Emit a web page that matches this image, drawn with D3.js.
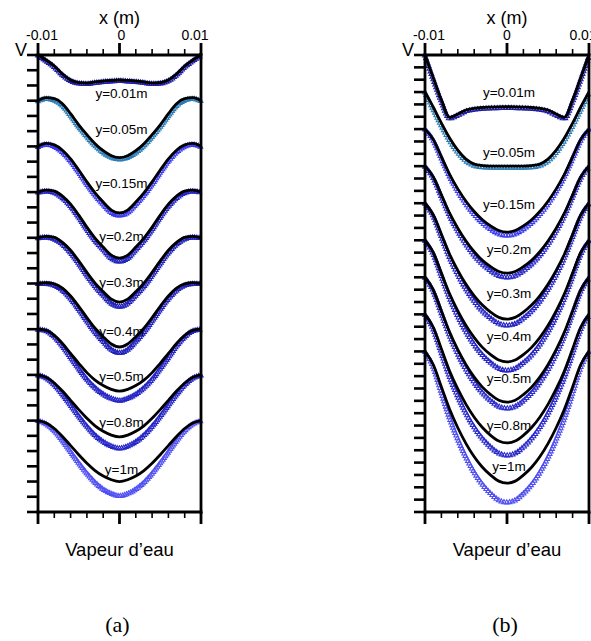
<!DOCTYPE html>
<html><head><meta charset="utf-8">
<script src="https://cdn.jsdelivr.net/npm/d3@7"></script>
<style>body{margin:0;background:#fff}svg{display:block}</style>
</head><body>
<script>
// ---------- DATA ----------
const xValues = [-0.010,-0.009,-0.008,-0.007,-0.006,-0.005,-0.004,-0.003,-0.002,-0.001,0,0.001,0.002,0.003,0.004,0.005,0.006,0.007,0.008,0.009,0.010];
const curveLabels = ["y=0.01m","y=0.05m","y=0.15m","y=0.2m","y=0.3m","y=0.4m","y=0.5m","y=0.8m","y=1m"];
const xMinorTicks = [-0.01,-0.008,-0.006,-0.004,-0.002,0,0.002,0.004,0.006,0.008,0.01];
const xMajorTicks = [-0.01,0,0.01];
const xTickLabels = ["-0.01","0","0.01"];
const xAxisTitle = "x (m)";
const vAxisTitle = "V";
const panelTitles = ["Vapeur d\u2019eau","Vapeur d\u2019eau"];
const panelCaptions = ["(a)","(b)"];

// panel (a): model (black line)
const aModel = [
[0,-0.33,-0.72,-1.25,-1.64,-1.81,-1.84,-1.77,-1.71,-1.67,-1.64,-1.67,-1.71,-1.77,-1.84,-1.81,-1.64,-1.25,-0.72,-0.33,0],
[-3,-2.80,-2.87,-3.20,-3.85,-4.58,-5.23,-5.82,-6.28,-6.61,-6.74,-6.61,-6.28,-5.82,-5.23,-4.58,-3.85,-3.20,-2.87,-2.80,-3],
[-6,-5.80,-5.90,-6.25,-6.82,-7.55,-8.33,-9.05,-9.65,-10.18,-10.37,-10.18,-9.65,-9.05,-8.33,-7.55,-6.82,-6.25,-5.90,-5.80,-6],
[-9,-8.87,-8.93,-9.26,-9.79,-10.51,-11.30,-12.02,-12.61,-13.14,-13.33,-13.14,-12.61,-12.02,-11.30,-10.51,-9.79,-9.26,-8.93,-8.87,-9],
[-12,-11.90,-11.97,-12.30,-12.82,-13.52,-14.27,-14.97,-15.53,-16.03,-16.22,-16.03,-15.53,-14.97,-14.27,-13.52,-12.82,-12.30,-11.97,-11.90,-12],
[-15,-14.95,-15.02,-15.30,-15.82,-16.50,-17.24,-17.93,-18.49,-18.97,-19.17,-18.97,-18.49,-17.93,-17.24,-16.50,-15.82,-15.30,-15.02,-14.95,-15],
[-18,-18.08,-18.41,-18.94,-19.59,-20.24,-20.85,-21.34,-21.70,-21.95,-22.07,-21.95,-21.70,-21.34,-20.85,-20.24,-19.59,-18.94,-18.41,-18.08,-18],
[-21,-21.16,-21.53,-22.06,-22.67,-23.28,-23.85,-24.34,-24.70,-24.95,-25.07,-24.95,-24.70,-24.34,-23.85,-23.28,-22.67,-22.06,-21.53,-21.16,-21],
[-24,-24.16,-24.52,-25.04,-25.64,-26.24,-26.80,-27.28,-27.64,-27.88,-28.00,-27.88,-27.64,-27.28,-26.80,-26.24,-25.64,-25.04,-24.52,-24.16,-24]
];
// panel (a): measured (triangles)
const aMeasured = [
[0,-0.36,-0.76,-1.28,-1.67,-1.84,-1.87,-1.80,-1.74,-1.70,-1.67,-1.70,-1.74,-1.80,-1.87,-1.84,-1.67,-1.28,-0.76,-0.36,0],
[-3,-2.85,-2.95,-3.30,-3.95,-4.68,-5.33,-5.92,-6.38,-6.70,-6.82,-6.70,-6.38,-5.92,-5.33,-4.68,-3.95,-3.30,-2.95,-2.85,-3],
[-6,-5.85,-5.98,-6.35,-6.93,-7.67,-8.45,-9.17,-9.78,-10.32,-10.50,-10.32,-9.78,-9.17,-8.45,-7.67,-6.93,-6.35,-5.98,-5.85,-6],
[-9,-8.92,-9.02,-9.36,-9.90,-10.62,-11.42,-12.15,-12.75,-13.32,-13.53,-13.32,-12.75,-12.15,-11.42,-10.62,-9.90,-9.36,-9.02,-8.92,-9],
[-12,-11.95,-12.06,-12.40,-12.95,-13.66,-14.43,-15.15,-15.74,-16.28,-16.49,-16.28,-15.74,-15.15,-14.43,-13.66,-12.95,-12.40,-12.06,-11.95,-12],
[-15,-15.00,-15.10,-15.42,-15.96,-16.66,-17.43,-18.16,-18.77,-19.31,-19.53,-19.31,-18.77,-18.16,-17.43,-16.66,-15.96,-15.42,-15.10,-15.00,-15],
[-18,-18.09,-18.47,-19.07,-19.82,-20.56,-21.26,-21.82,-22.24,-22.52,-22.66,-22.52,-22.24,-21.82,-21.26,-20.56,-19.82,-19.07,-18.47,-18.09,-18],
[-21,-21.19,-21.62,-22.25,-22.96,-23.68,-24.35,-24.93,-25.36,-25.65,-25.79,-25.65,-25.36,-24.93,-24.35,-23.68,-22.96,-22.25,-21.62,-21.19,-21],
[-24,-24.20,-24.64,-25.28,-26.02,-26.76,-27.44,-28.03,-28.48,-28.77,-28.92,-28.77,-28.48,-28.03,-27.44,-26.76,-26.02,-25.28,-24.64,-24.20,-24]
];
// panel (b): model (black line)
const bModel = [
[0,-1.85,-3.65,-5.05,-4.78,-4.45,-4.32,-4.25,-4.22,-4.20,-4.19,-4.20,-4.22,-4.25,-4.32,-4.45,-4.78,-5.05,-3.65,-1.85,0],
[-3,-4.21,-5.51,-6.72,-7.70,-8.43,-8.83,-8.95,-8.99,-8.99,-8.99,-8.99,-8.99,-8.95,-8.83,-8.43,-7.70,-6.72,-5.51,-4.21,-3],
[-6,-6.83,-8.25,-9.67,-10.84,-11.84,-12.67,-13.34,-13.84,-14.21,-14.34,-14.21,-13.84,-13.34,-12.67,-11.84,-10.84,-9.67,-8.25,-6.83,-6],
[-9,-9.87,-11.34,-12.81,-14.02,-15.06,-15.93,-16.62,-17.14,-17.53,-17.66,-17.53,-17.14,-16.62,-15.93,-15.06,-14.02,-12.81,-11.34,-9.87,-9],
[-12,-12.94,-14.53,-16.13,-17.44,-18.57,-19.50,-20.25,-20.82,-21.24,-21.38,-21.24,-20.82,-20.25,-19.50,-18.57,-17.44,-16.13,-14.53,-12.94,-12],
[-15,-15.99,-17.66,-19.33,-20.71,-21.90,-22.88,-23.67,-24.26,-24.70,-24.85,-24.70,-24.26,-23.67,-22.88,-21.90,-20.71,-19.33,-17.66,-15.99,-15],
[-18,-19.01,-20.73,-22.44,-23.86,-25.07,-26.08,-26.89,-27.49,-27.95,-28.10,-27.95,-27.49,-26.89,-26.08,-25.07,-23.86,-22.44,-20.73,-19.01,-18],
[-21,-22.04,-23.81,-25.58,-27.04,-28.29,-29.33,-30.16,-30.79,-31.25,-31.41,-31.25,-30.79,-30.16,-29.33,-28.29,-27.04,-25.58,-23.81,-22.04,-21],
[-24,-25.07,-26.88,-28.69,-30.18,-31.46,-32.53,-33.38,-34.02,-34.50,-34.66,-34.50,-34.02,-33.38,-32.53,-31.46,-30.18,-28.69,-26.88,-25.07,-24]
];
// panel (b): measured (triangles)
const bMeasured = [
[0,-1.90,-3.72,-5.10,-4.85,-4.52,-4.38,-4.31,-4.28,-4.26,-4.25,-4.26,-4.28,-4.31,-4.38,-4.52,-4.85,-5.10,-3.72,-1.90,0],
[-3,-4.35,-5.68,-6.88,-7.85,-8.55,-8.93,-9.05,-9.08,-9.08,-9.08,-9.08,-9.08,-9.05,-8.93,-8.55,-7.85,-6.88,-5.68,-4.35,-3],
[-6,-6.86,-8.32,-9.78,-10.98,-12.01,-12.86,-13.55,-14.07,-14.45,-14.58,-14.45,-14.07,-13.55,-12.86,-12.01,-10.98,-9.78,-8.32,-6.86,-6],
[-9,-9.90,-11.42,-12.95,-14.20,-15.28,-16.18,-16.89,-17.43,-17.84,-17.97,-17.84,-17.43,-16.89,-16.18,-15.28,-14.20,-12.95,-11.42,-9.90,-9],
[-12,-12.99,-14.66,-16.34,-17.72,-18.90,-19.89,-20.68,-21.27,-21.71,-21.86,-21.71,-21.27,-20.68,-19.89,-18.90,-17.72,-16.34,-14.66,-12.99,-12],
[-15,-16.05,-17.84,-19.62,-21.09,-22.35,-23.40,-24.24,-24.87,-25.34,-25.50,-25.34,-24.87,-24.24,-23.40,-22.35,-21.09,-19.62,-17.84,-16.05,-15],
[-18,-19.06,-20.86,-22.66,-24.14,-25.41,-26.46,-27.31,-27.95,-28.42,-28.58,-28.42,-27.95,-27.31,-26.46,-25.41,-24.14,-22.66,-20.86,-19.06,-18],
[-21,-22.14,-24.07,-26.01,-27.60,-28.97,-30.10,-31.01,-31.70,-32.21,-32.38,-32.21,-31.70,-31.01,-30.10,-28.97,-27.60,-26.01,-24.07,-22.14,-21],
[-24,-25.22,-27.29,-29.36,-31.07,-32.53,-33.75,-34.73,-35.46,-36.01,-36.19,-36.01,-35.46,-34.73,-33.75,-32.53,-31.07,-29.36,-27.29,-25.22,-24]
];
// label anchor positions (V units)
const aLabelV = [-2.82,-5.19,-8.73,-12.21,-15.23,-18.45,-21.4,-24.43,-27.51];
const bLabelV = [-3.40,-8.26,-12.47,-16.11,-19.68,-23.16,-26.56,-30.36,-33.68];
const aVRange = [0,-30];
const bVRange = [0,-37];

// ---------- LAYOUT / STYLE ----------
const aColors = ["#1e1ea8","#2a7cb8","#3a3af0","#2424c4","#2020bc","#2020bc","#2424c4","#2626c8","#5050f4"];
const bColors = ["#1e1ea8","#2a7cb8","#3a3af0","#2828cc","#2424c4","#2424c4","#2a2acc","#2a2acc","#4e4ef0"];

const panels = [
  {left:38, right:201, top:55, bottom:512, vr:aVRange, model:aModel, meas:aMeasured, labV:aLabelV, colors:aColors, spacing:2.2, title:panelTitles[0], cap:panelCaptions[0], labDx:2, tlOff:[4,2,-6]},
  {left:425, right:589, top:55, bottom:512, vr:bVRange, model:bModel, meas:bMeasured, labV:bLabelV, colors:bColors, spacing:2.8, title:panelTitles[1], cap:panelCaptions[1], labDx:2, tlOff:[4,0,-6]}
];

const W = 591, H = 641;
const svg = d3.select("body").append("svg").attr("width",W).attr("height",H)
  .style("font-family","'Liberation Sans', Arial, sans-serif");

const tri = d3.symbol(d3.symbolTriangle, 10)();

panels.forEach(p => {
  const x = d3.scaleLinear().domain([-0.01,0.01]).range([p.left,p.right]);
  const y = d3.scaleLinear().domain(p.vr).range([p.top,p.bottom]);
  const g = svg.append("g");
  const line = d3.line().x((d,i)=>x(xValues[i])).y(d=>y(d)).curve(d3.curveMonotoneX);

  // measured markers (sampled along the measured curve)
  p.meas.forEach((series,k) => {
    const path = g.append("path").attr("d", line(series)).attr("fill","none").attr("stroke","none");
    const node = path.node();
    const L = node.getTotalLength();
    const pts = d3.range(0, L+0.01, p.spacing).map(l => node.getPointAtLength(l));
    g.append("g").selectAll("path").data(pts).join("path")
      .attr("d", tri)
      .attr("transform", d => `translate(${d.x},${d.y+0.6})`)
      .attr("fill","none").attr("stroke", p.colors[k]).attr("stroke-width",1.05);
  });

  // model lines
  p.model.forEach(series => {
    g.append("path").attr("d", line(series)).attr("fill","none")
      .attr("stroke","#000").attr("stroke-width",2.8).attr("stroke-linejoin","round");
  });

  // frame
  const fr = g.append("g").attr("stroke","#000").attr("stroke-width",2.8).attr("stroke-linecap","square");
  fr.append("line").attr("x1",p.left).attr("x2",p.right).attr("y1",p.top).attr("y2",p.top);
  fr.append("line").attr("x1",p.left).attr("x2",p.right).attr("y1",p.bottom).attr("y2",p.bottom);
  fr.append("line").attr("x1",p.left).attr("x2",p.left).attr("y1",p.top).attr("y2",p.bottom);
  fr.append("line").attr("x1",p.right).attr("x2",p.right).attr("y1",p.top).attr("y2",p.bottom);

  // x ticks (top: up, bottom: down)
  const tk = g.append("g").attr("stroke","#000");
  xMinorTicks.forEach(v => {
    const major = xMajorTicks.some(m => Math.abs(m-v)<1e-9);
    const len = major ? 12 : 6;
    tk.append("line").attr("x1",x(v)).attr("x2",x(v)).attr("y1",p.top).attr("y2",p.top-len)
      .attr("stroke-width", major?2.8:1.6);
    tk.append("line").attr("x1",x(v)).attr("x2",x(v)).attr("y1",p.bottom).attr("y2",p.bottom+len)
      .attr("stroke-width", major?2.8:1.6);
  });
  // V ticks (left, outward)
  d3.range(p.vr[0], p.vr[1]-0.5, -1).forEach(v => {
    tk.append("line").attr("x1",p.left-11).attr("x2",p.left).attr("y1",y(v)).attr("y2",y(v))
      .attr("stroke-width",2.6);
  });

  // tick labels
  xMajorTicks.forEach((v,i) => {
    g.append("text").attr("x", x(v)+p.tlOff[i]).attr("y", 40).attr("text-anchor","middle")
      .attr("font-size",14).text(xTickLabels[i]);
  });
  g.append("text").attr("x", x(0)).attr("y", 24).attr("text-anchor","middle")
    .attr("font-size",18).text(xAxisTitle);
  g.append("text").attr("x", p.left-11).attr("y", p.top+0.5).attr("text-anchor","end")
    .attr("font-size",18).text(vAxisTitle);

  // curve labels
  curveLabels.forEach((t,i) => {
    g.append("text").attr("x", x(0)+p.labDx).attr("y", y(p.labV[i])).attr("text-anchor","middle")
      .attr("font-size",13.5).text(t);
  });

  // titles & captions
  g.append("text").attr("x", x(0)).attr("y", 556).attr("text-anchor","middle")
    .attr("font-size",18.5).text(p.title);
  g.append("text").attr("x", x(0)-2).attr("y", 632).attr("text-anchor","middle")
    .attr("font-size",22).attr("font-family","'Liberation Serif','DejaVu Serif',serif").text(p.cap);
});
</script>
</body></html>
